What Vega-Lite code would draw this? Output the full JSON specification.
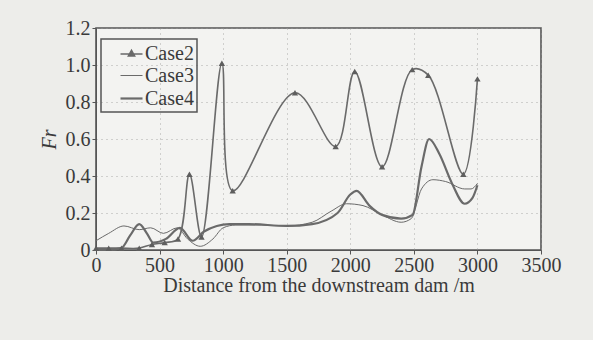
{
  "$schema": "https://vega.github.io/schema/vega-lite/v6.json",
  "width": 445,
  "height": 222,
  "autosize": "none",
  "padding": {"left": 96, "top": 28, "right": 52, "bottom": 90},
  "background": "#ededea",
  "config": {
    "view": {"stroke": "#555555", "strokeWidth": 1.6, "fill": "#f3f3f1"},
    "font": "Liberation Serif",
    "axis": {
      "labelFont": "Liberation Serif",
      "labelFontSize": 20,
      "labelColor": "#3a3a3a",
      "titleFont": "Liberation Serif",
      "titleFontSize": 20,
      "titleFontWeight": "normal",
      "titleColor": "#3a3a3a",
      "domainColor": "#555555",
      "tickColor": "#555555",
      "gridColor": "#999999",
      "gridDash": [1, 4],
      "gridOpacity": 0.8,
      "tickSize": 4,
      "labelFlush": false
    },
    "legend": {
      "labelFont": "Liberation Serif",
      "labelFontSize": 20,
      "labelColor": "#3a3a3a"
    }
  },
  "data": {
    "values": [
      {"case": "Case2", "x": 0, "y": 0.01},
      {"case": "Case2", "x": 100, "y": 0.01},
      {"case": "Case2", "x": 200, "y": 0.01},
      {"case": "Case2", "x": 340, "y": 0.01},
      {"case": "Case2", "x": 440, "y": 0.03},
      {"case": "Case2", "x": 540, "y": 0.04},
      {"case": "Case2", "x": 645, "y": 0.06},
      {"case": "Case2", "x": 735, "y": 0.41},
      {"case": "Case2", "x": 830, "y": 0.07},
      {"case": "Case2", "x": 990, "y": 1.01},
      {"case": "Case2", "x": 1075, "y": 0.32},
      {"case": "Case2", "x": 1565, "y": 0.85},
      {"case": "Case2", "x": 1885, "y": 0.56},
      {"case": "Case2", "x": 2035, "y": 0.965},
      {"case": "Case2", "x": 2250, "y": 0.45},
      {"case": "Case2", "x": 2487, "y": 0.975},
      {"case": "Case2", "x": 2613, "y": 0.945},
      {"case": "Case2", "x": 2889, "y": 0.41},
      {"case": "Case2", "x": 3000, "y": 0.925},
      {"case": "Case3", "x": 0, "y": 0.05},
      {"case": "Case3", "x": 100, "y": 0.09},
      {"case": "Case3", "x": 220, "y": 0.13},
      {"case": "Case3", "x": 340, "y": 0.11},
      {"case": "Case3", "x": 430, "y": 0.12},
      {"case": "Case3", "x": 530, "y": 0.09},
      {"case": "Case3", "x": 640, "y": 0.12},
      {"case": "Case3", "x": 720, "y": 0.06},
      {"case": "Case3", "x": 820, "y": 0.02},
      {"case": "Case3", "x": 920, "y": 0.06},
      {"case": "Case3", "x": 1000, "y": 0.12},
      {"case": "Case3", "x": 1100, "y": 0.135},
      {"case": "Case3", "x": 1300, "y": 0.135},
      {"case": "Case3", "x": 1500, "y": 0.13},
      {"case": "Case3", "x": 1700, "y": 0.15},
      {"case": "Case3", "x": 1850, "y": 0.21},
      {"case": "Case3", "x": 1970, "y": 0.25},
      {"case": "Case3", "x": 2100, "y": 0.24},
      {"case": "Case3", "x": 2250, "y": 0.19},
      {"case": "Case3", "x": 2400, "y": 0.15},
      {"case": "Case3", "x": 2480, "y": 0.17},
      {"case": "Case3", "x": 2560, "y": 0.33},
      {"case": "Case3", "x": 2650, "y": 0.38},
      {"case": "Case3", "x": 2750, "y": 0.37},
      {"case": "Case3", "x": 2900, "y": 0.33},
      {"case": "Case3", "x": 2950, "y": 0.33},
      {"case": "Case3", "x": 3000, "y": 0.36},
      {"case": "Case4", "x": 0, "y": 0.0},
      {"case": "Case4", "x": 100, "y": 0.0},
      {"case": "Case4", "x": 200, "y": 0.01},
      {"case": "Case4", "x": 270, "y": 0.08},
      {"case": "Case4", "x": 340, "y": 0.14},
      {"case": "Case4", "x": 400, "y": 0.09},
      {"case": "Case4", "x": 450, "y": 0.04},
      {"case": "Case4", "x": 550, "y": 0.06},
      {"case": "Case4", "x": 660, "y": 0.12},
      {"case": "Case4", "x": 760, "y": 0.05},
      {"case": "Case4", "x": 850, "y": 0.1},
      {"case": "Case4", "x": 950, "y": 0.13},
      {"case": "Case4", "x": 1050, "y": 0.14},
      {"case": "Case4", "x": 1200, "y": 0.14},
      {"case": "Case4", "x": 1500, "y": 0.13},
      {"case": "Case4", "x": 1700, "y": 0.14},
      {"case": "Case4", "x": 1900, "y": 0.2},
      {"case": "Case4", "x": 2000, "y": 0.3},
      {"case": "Case4", "x": 2050, "y": 0.32},
      {"case": "Case4", "x": 2150, "y": 0.24},
      {"case": "Case4", "x": 2250, "y": 0.19},
      {"case": "Case4", "x": 2400, "y": 0.17},
      {"case": "Case4", "x": 2490, "y": 0.19},
      {"case": "Case4", "x": 2560, "y": 0.45},
      {"case": "Case4", "x": 2620, "y": 0.6},
      {"case": "Case4", "x": 2700, "y": 0.52},
      {"case": "Case4", "x": 2800, "y": 0.36},
      {"case": "Case4", "x": 2900, "y": 0.25},
      {"case": "Case4", "x": 2960, "y": 0.28},
      {"case": "Case4", "x": 3000, "y": 0.35}
    ]
  },
  "encoding": {
    "x": {
      "field": "x", "type": "quantitative",
      "scale": {"domain": [0, 3500], "nice": false},
      "axis": {"values": [0, 500, 1000, 1500, 2000, 2500, 3000, 3500], "title": "Distance from the downstream dam /m", "format": "d", "grid": true, "titlePadding": 0, "labelPadding": 1}
    },
    "y": {
      "field": "y", "type": "quantitative",
      "scale": {"domain": [0, 1.2], "nice": false},
      "axis": {"values": [0, 0.2, 0.4, 0.6, 0.8, 1.0, 1.2], "title": "Fr", "titleFontStyle": "italic", "labelExpr": "datum.value == 0 ? '0' : format(datum.value, '.1f')", "grid": true, "titlePadding": 6, "labelPadding": 2}
    }
  },
  "layer": [
    {
      "transform": [{"filter": "datum.case == 'Case2'"}],
      "mark": {"type": "line", "interpolate": "catmull-rom", "color": "#6a6a6a"},
      "encoding": {
        "strokeWidth": {
          "field": "case", "type": "nominal",
          "scale": {"type": "ordinal", "domain": ["Case2", "Case3", "Case4"], "range": [1.6, 1.0, 2.2]},
          "legend": {
            "title": null,
            "orient": "none",
            "legendX": 5,
            "legendY": 11,
            "padding": 3,
            "strokeColor": "#555555",
            "symbolType": "stroke",
            "symbolSize": 484,
            "symbolOffset": 15,
            "symbolStrokeColor": "#6a6a6a",
            "rowPadding": -5,
            "labelOffset": 1,
            "encode": {
              "legend": {"update": {"strokeWidth": {"value": 1.5}}},
              "symbols": {
                "update": {
                  "shape": {"signal": "datum.value == 'Case2' ? 'M-1,0H1M0,-0.32L0.28,0.18L-0.28,0.18Z' : 'stroke'"},
                  "fill": {"signal": "datum.value == 'Case2' ? '#6a6a6a' : 'transparent'"},
                  "stroke": {"value": "#6a6a6a"}
                }
              }
            }
          }
        }
      }
    },
    {
      "transform": [{"filter": "datum.case != 'Case2'"}],
      "mark": {"type": "line", "interpolate": "monotone", "color": "#6a6a6a"},
      "encoding": {
        "detail": {"field": "case", "type": "nominal"},
        "strokeWidth": {
          "field": "case", "type": "nominal",
          "scale": {"type": "ordinal", "domain": ["Case2", "Case3", "Case4"], "range": [1.6, 1.0, 2.2]},
          "legend": null
        }
      }
    },
    {
      "transform": [{"filter": "datum.case == 'Case2'"}],
      "mark": {"type": "point", "shape": "triangle-up", "filled": true, "size": 40, "color": "#5e5e5e", "opacity": 1},
      "encoding": {}
    }
  ]
}
